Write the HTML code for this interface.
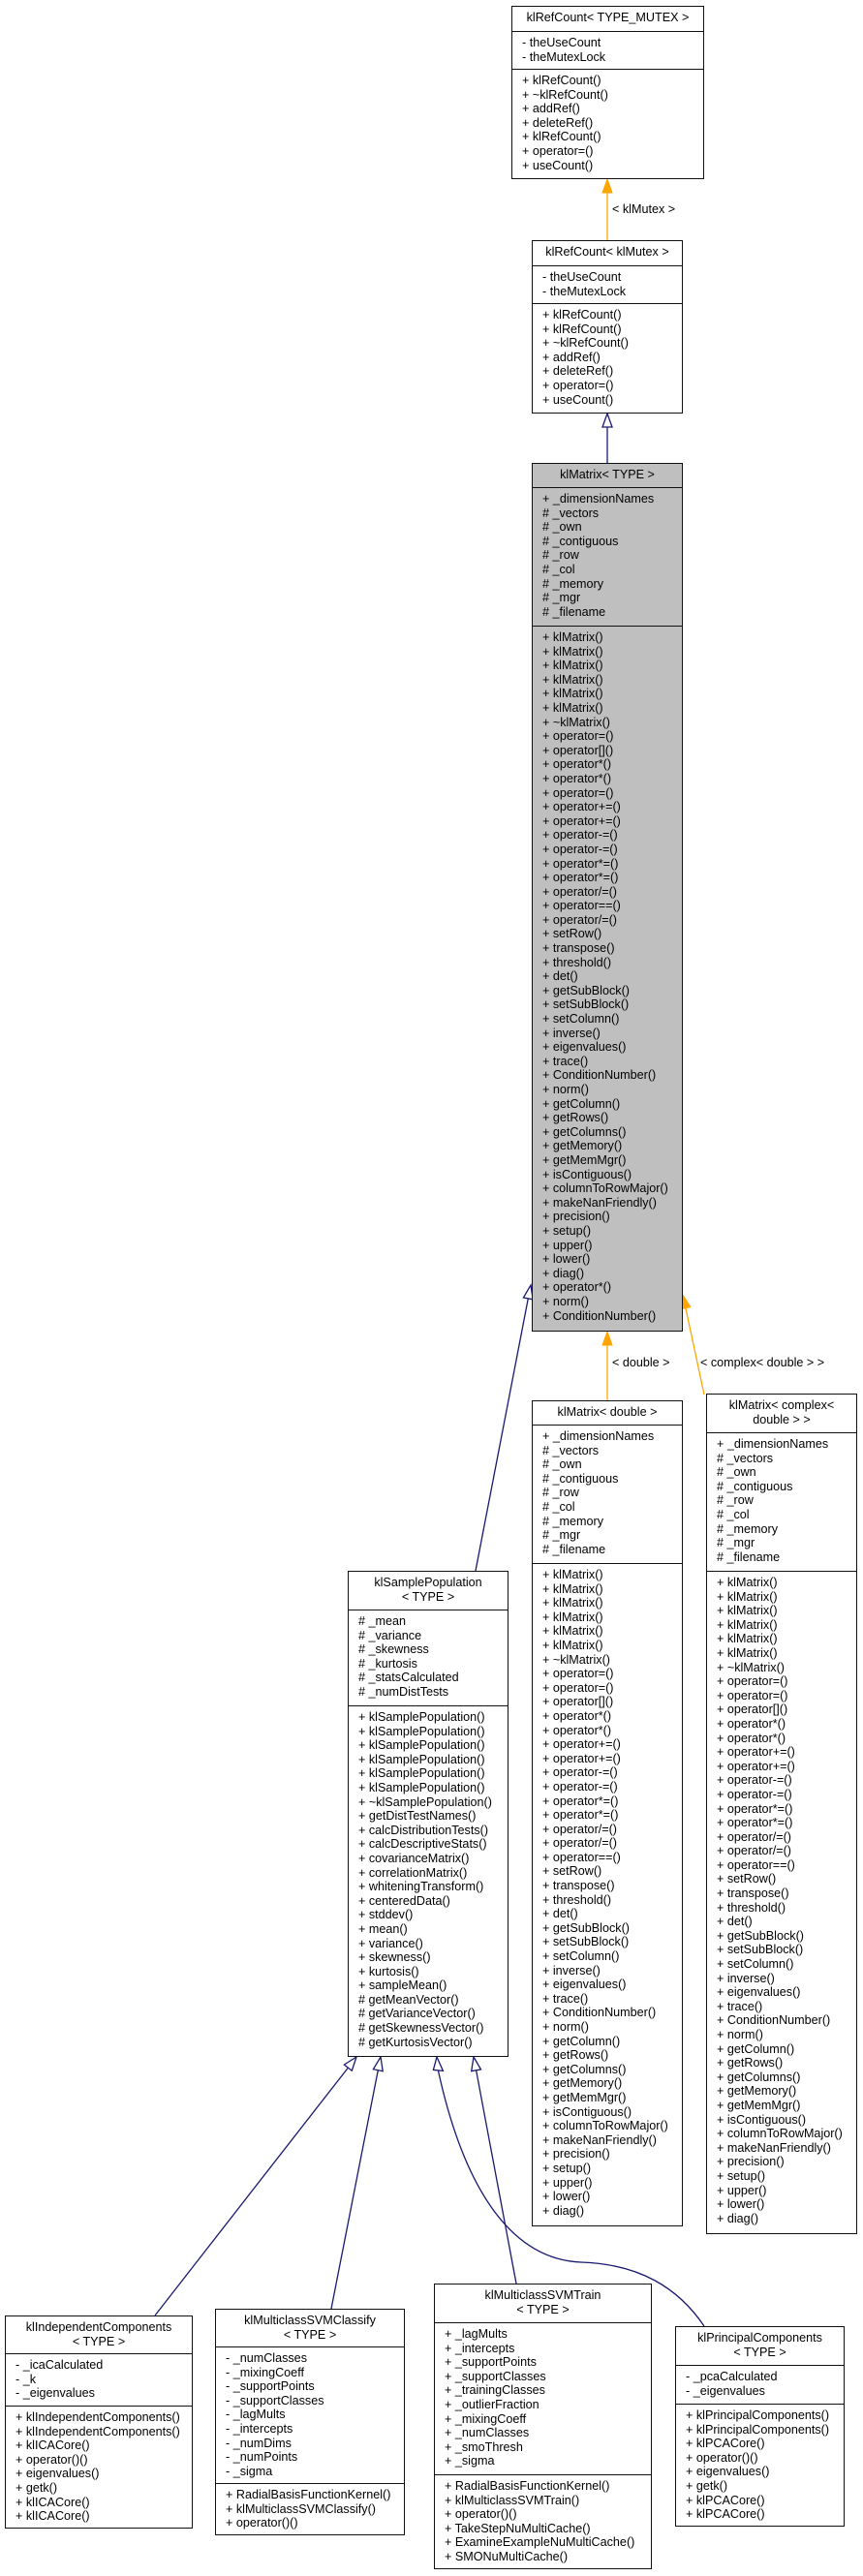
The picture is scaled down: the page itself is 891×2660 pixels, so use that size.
<!DOCTYPE html>
<html><head><meta charset="utf-8">
<style>
html,body{margin:0;padding:0;background:#fff;}
body{width:891px;height:2660px;position:relative;overflow:hidden;font-family:"Liberation Sans",Arial,sans-serif;font-size:12.6px;color:#000;}
.b{position:absolute;border:1px solid #111;background:#fff;box-sizing:border-box;overflow:hidden;}
.g{background:#bfbfbf;}
.s{border-bottom:1px solid #111;box-sizing:border-box;padding:4px 0 0 10px;line-height:14.6px;white-space:nowrap;overflow:hidden;}
.s:last-child{border-bottom:none;}
.t{text-align:center;padding:4px 2px 0 2px;}
.l{position:absolute;font-size:12.6px;white-space:nowrap;line-height:14px;}
svg{position:absolute;left:0;top:0;}
</style></head><body>
<svg width="891" height="2660" viewBox="0 0 891 2660">
<g fill="none" stroke="#ffa500" stroke-width="1.3">
<line x1="627" y1="248" x2="627" y2="199"/>
<line x1="627" y1="1446" x2="627" y2="1389"/>
<line x1="727" y1="1440" x2="707.9" y2="1350.7"/>
</g>
<g fill="#ffa500" stroke="#ffa500">
<polygon points="627,185 622,199 632,199"/>
<polygon points="627,1375 622,1389 632,1389"/>
<polygon points="705,1337 712.8,1349.7 703,1351.8"/>
</g>
<g fill="none" stroke="#191970" stroke-width="1.3">
<line x1="627" y1="478" x2="627" y2="441"/>
<line x1="491" y1="1622" x2="545.3" y2="1340.8"/>
<line x1="160" y1="2391" x2="359.4" y2="2135.1"/>
<line x1="342" y1="2384" x2="390.3" y2="2137.7"/>
<line x1="533" y1="2358" x2="491.6" y2="2137.8"/>
<path d="M452.4,2138 C478,2255 525,2333 600,2336 C660,2338 700,2362 727,2402"/>
</g>
<g fill="#fff" stroke="#191970" stroke-width="1.3">
<polygon points="627,427 622,441 632,441"/>
<polygon points="548,1327 550.2,1341.8 540.4,1339.9"/>
<polygon points="368,2124 363.3,2138.2 355.4,2132"/>
<polygon points="393,2124 395.2,2138.7 385.4,2136.7"/>
<polygon points="489,2124 496.5,2136.9 486.7,2138.7"/>
<polygon points="451,2124 457.4,2138.4 447.4,2137.4"/>
</g>
</svg>

<div class="l" style="left:632px;top:209px;">&lt; klMutex &gt;</div>
<div class="l" style="left:632px;top:1400px;">&lt; double &gt;</div>
<div class="l" style="left:723px;top:1400px;">&lt; complex&lt; double &gt; &gt;</div>

<div class="b" style="left:528px;top:6px;width:199px;height:179px;">
<div class="s t" style="height:26px;">klRefCount&lt; TYPE_MUTEX &gt;</div>
<div class="s" style="height:39px;">- theUseCount<br>- theMutexLock</div>
<div class="s">+ klRefCount()<br>+ ~klRefCount()<br>+ addRef()<br>+ deleteRef()<br>+ klRefCount()<br>+ operator=()<br>+ useCount()</div>
</div>

<div class="b" style="left:549px;top:248px;width:156px;height:179px;">
<div class="s t" style="height:26px;">klRefCount&lt; klMutex &gt;</div>
<div class="s" style="height:39px;">- theUseCount<br>- theMutexLock</div>
<div class="s">+ klRefCount()<br>+ klRefCount()<br>+ ~klRefCount()<br>+ addRef()<br>+ deleteRef()<br>+ operator=()<br>+ useCount()</div>
</div>

<div class="b g" style="left:549px;top:478px;width:156px;height:897px;">
<div class="s t" style="height:25px;">klMatrix&lt; TYPE &gt;</div>
<div class="s" style="height:143px;">+ _dimensionNames<br># _vectors<br># _own<br># _contiguous<br># _row<br># _col<br># _memory<br># _mgr<br># _filename</div>
<div class="s">+ klMatrix()<br>+ klMatrix()<br>+ klMatrix()<br>+ klMatrix()<br>+ klMatrix()<br>+ klMatrix()<br>+ ~klMatrix()<br>+ operator=()<br>+ operator[]()<br>+ operator*()<br>+ operator*()<br>+ operator=()<br>+ operator+=()<br>+ operator+=()<br>+ operator-=()<br>+ operator-=()<br>+ operator*=()<br>+ operator*=()<br>+ operator/=()<br>+ operator==()<br>+ operator/=()<br>+ setRow()<br>+ transpose()<br>+ threshold()<br>+ det()<br>+ getSubBlock()<br>+ setSubBlock()<br>+ setColumn()<br>+ inverse()<br>+ eigenvalues()<br>+ trace()<br>+ ConditionNumber()<br>+ norm()<br>+ getColumn()<br>+ getRows()<br>+ getColumns()<br>+ getMemory()<br>+ getMemMgr()<br>+ isContiguous()<br>+ columnToRowMajor()<br>+ makeNanFriendly()<br>+ precision()<br>+ setup()<br>+ upper()<br>+ lower()<br>+ diag()<br>+ operator*()<br>+ norm()<br>+ ConditionNumber()</div>
</div>

<div class="b" style="left:549px;top:1446px;width:156px;height:853px;">
<div class="s t" style="height:25px;">klMatrix&lt; double &gt;</div>
<div class="s" style="height:143px;">+ _dimensionNames<br># _vectors<br># _own<br># _contiguous<br># _row<br># _col<br># _memory<br># _mgr<br># _filename</div>
<div class="s">+ klMatrix()<br>+ klMatrix()<br>+ klMatrix()<br>+ klMatrix()<br>+ klMatrix()<br>+ klMatrix()<br>+ ~klMatrix()<br>+ operator=()<br>+ operator=()<br>+ operator[]()<br>+ operator*()<br>+ operator*()<br>+ operator+=()<br>+ operator+=()<br>+ operator-=()<br>+ operator-=()<br>+ operator*=()<br>+ operator*=()<br>+ operator/=()<br>+ operator/=()<br>+ operator==()<br>+ setRow()<br>+ transpose()<br>+ threshold()<br>+ det()<br>+ getSubBlock()<br>+ setSubBlock()<br>+ setColumn()<br>+ inverse()<br>+ eigenvalues()<br>+ trace()<br>+ ConditionNumber()<br>+ norm()<br>+ getColumn()<br>+ getRows()<br>+ getColumns()<br>+ getMemory()<br>+ getMemMgr()<br>+ isContiguous()<br>+ columnToRowMajor()<br>+ makeNanFriendly()<br>+ precision()<br>+ setup()<br>+ upper()<br>+ lower()<br>+ diag()</div>
</div>

<div class="b" style="left:729px;top:1439px;width:156px;height:868px;">
<div class="s t" style="height:40px;">klMatrix&lt; complex&lt;<br>double &gt; &gt;</div>
<div class="s" style="height:143px;">+ _dimensionNames<br># _vectors<br># _own<br># _contiguous<br># _row<br># _col<br># _memory<br># _mgr<br># _filename</div>
<div class="s">+ klMatrix()<br>+ klMatrix()<br>+ klMatrix()<br>+ klMatrix()<br>+ klMatrix()<br>+ klMatrix()<br>+ ~klMatrix()<br>+ operator=()<br>+ operator=()<br>+ operator[]()<br>+ operator*()<br>+ operator*()<br>+ operator+=()<br>+ operator+=()<br>+ operator-=()<br>+ operator-=()<br>+ operator*=()<br>+ operator*=()<br>+ operator/=()<br>+ operator/=()<br>+ operator==()<br>+ setRow()<br>+ transpose()<br>+ threshold()<br>+ det()<br>+ getSubBlock()<br>+ setSubBlock()<br>+ setColumn()<br>+ inverse()<br>+ eigenvalues()<br>+ trace()<br>+ ConditionNumber()<br>+ norm()<br>+ getColumn()<br>+ getRows()<br>+ getColumns()<br>+ getMemory()<br>+ getMemMgr()<br>+ isContiguous()<br>+ columnToRowMajor()<br>+ makeNanFriendly()<br>+ precision()<br>+ setup()<br>+ upper()<br>+ lower()<br>+ diag()</div>
</div>

<div class="b" style="left:359px;top:1622px;width:166px;height:502px;">
<div class="s t" style="height:40px;">klSamplePopulation<br>&lt; TYPE &gt;</div>
<div class="s" style="height:99px;"># _mean<br># _variance<br># _skewness<br># _kurtosis<br># _statsCalculated<br># _numDistTests</div>
<div class="s">+ klSamplePopulation()<br>+ klSamplePopulation()<br>+ klSamplePopulation()<br>+ klSamplePopulation()<br>+ klSamplePopulation()<br>+ klSamplePopulation()<br>+ ~klSamplePopulation()<br>+ getDistTestNames()<br>+ calcDistributionTests()<br>+ calcDescriptiveStats()<br>+ covarianceMatrix()<br>+ correlationMatrix()<br>+ whiteningTransform()<br>+ centeredData()<br>+ stddev()<br>+ mean()<br>+ variance()<br>+ skewness()<br>+ kurtosis()<br>+ sampleMean()<br># getMeanVector()<br># getVarianceVector()<br># getSkewnessVector()<br># getKurtosisVector()</div>
</div>

<div class="b" style="left:5px;top:2391px;width:194px;height:220px;">
<div class="s t" style="height:39px;">klIndependentComponents<br>&lt; TYPE &gt;</div>
<div class="s" style="height:54px;">- _icaCalculated<br>- _k<br>- _eigenvalues</div>
<div class="s">+ klIndependentComponents()<br>+ klIndependentComponents()<br>+ klICACore()<br>+ operator()()<br>+ eigenvalues()<br>+ getk()<br>+ klICACore()<br>+ klICACore()</div>
</div>

<div class="b" style="left:222px;top:2384px;width:196px;height:234px;">
<div class="s t" style="height:39px;">klMulticlassSVMClassify<br>&lt; TYPE &gt;</div>
<div class="s" style="height:141px;">- _numClasses<br>- _mixingCoeff<br>- _supportPoints<br>- _supportClasses<br>- _lagMults<br>- _intercepts<br>- _numDims<br>- _numPoints<br>- _sigma</div>
<div class="s">+ RadialBasisFunctionKernel()<br>+ klMulticlassSVMClassify()<br>+ operator()()</div>
</div>

<div class="b" style="left:448px;top:2358px;width:225px;height:295px;">
<div class="s t" style="height:40px;">klMulticlassSVMTrain<br>&lt; TYPE &gt;</div>
<div class="s" style="height:157px;">+ _lagMults<br>+ _intercepts<br>+ _supportPoints<br>+ _supportClasses<br>+ _trainingClasses<br>+ _outlierFraction<br>+ _mixingCoeff<br>+ _numClasses<br>+ _smoThresh<br>+ _sigma</div>
<div class="s">+ RadialBasisFunctionKernel()<br>+ klMulticlassSVMTrain()<br>+ operator()()<br>+ TakeStepNuMultiCache()<br>+ ExamineExampleNuMultiCache()<br>+ SMONuMultiCache()</div>
</div>

<div class="b" style="left:697px;top:2402px;width:175px;height:207px;">
<div class="s t" style="height:40px;">klPrincipalComponents<br>&lt; TYPE &gt;</div>
<div class="s" style="height:40px;">- _pcaCalculated<br>- _eigenvalues</div>
<div class="s">+ klPrincipalComponents()<br>+ klPrincipalComponents()<br>+ klPCACore()<br>+ operator()()<br>+ eigenvalues()<br>+ getk()<br>+ klPCACore()<br>+ klPCACore()</div>
</div>
</body></html>
